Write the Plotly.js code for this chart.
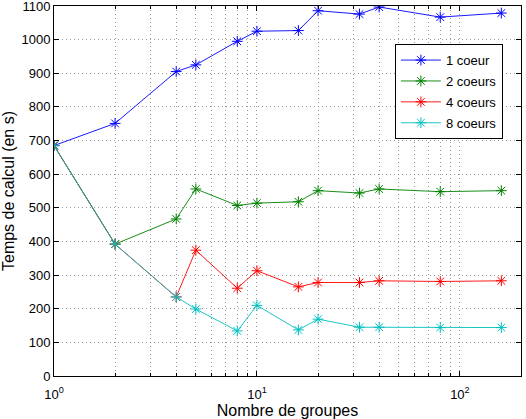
<!DOCTYPE html>
<html><head><meta charset="utf-8">
<script src="https://cdn.plot.ly/plotly-3.0.1.min.js"></script>
<style>html,body{margin:0;padding:0;background:#fff}#chart{width:526px;height:419px}</style>
</head><body><div id="chart"></div>
<script>
const groupes = [1, 2, 4, 5, 8, 10, 16, 20, 32, 40, 80, 160];
const coeur1 = [685, 751, 905, 925, 995, 1025, 1027, 1086, 1076, 1097, 1067, 1079];
const coeurs2 = [685, 392, 467, 556, 507, 514, 518, 551, 544, 556, 548, 551];
const coeurs4 = [685, 392, 235, 374, 261, 313, 265, 278, 278, 283, 281, 283];
const coeurs8 = [685, 392, 235, 199, 134, 210, 137, 169, 145, 145, 144, 144];
const names = ['1 coeur', '2 coeurs', '4 coeurs', '8 coeurs'];
const colors = ['#0000ff', '#008000', '#ff0000', '#00bfbf'];
const series = [coeur1, coeurs2, coeurs4, coeurs8];
const majorTicks = [1, 10, 100];
const majorText = ['10<sup>0</sup>', '10<sup>1</sup>', '10<sup>2</sup>'];
const minorTicks = [2,3,4,5,6,7,8,9,20,30,40,50,60,70,80,90,200];
const yTicks = [0,100,200,300,400,500,600,700,800,900,1000,1100];

const traces = series.map((s, i) => ({
  x: groupes, y: s, name: names[i], type: 'scatter', mode: 'lines+markers',
  legendgroup: names[i],
  line: {color: colors[i], width: 0.9},
  marker: {symbol: 'asterisk-open', size: 9, color: colors[i], line: {color: colors[i], width: 1}}
}));

const font = {family: 'Liberation Sans, Arial, sans-serif', color: '#000'};
const gridStyle = {showgrid: true, gridcolor: '#9a9a9a', griddash: '1px,3px', gridwidth: 1};
const layout = {
  width: 526, height: 419,
  margin: {l: 54, r: 5, t: 6, b: 43},
  paper_bgcolor: '#fff', plot_bgcolor: '#fff',
  font: Object.assign({size: 13}, font),
  showlegend: true,
  legend: {x: 0.73, y: 0.897, xanchor: 'left', yanchor: 'top', bgcolor: '#fff',
    bordercolor: '#000', borderwidth: 1, font: Object.assign({size: 13}, font),
    itemwidth: 40, tracegroupgap: 1},
  xaxis: Object.assign({
    type: 'log', range: [0, Math.log10(200)],
    tickmode: 'array', tickvals: majorTicks, ticktext: majorText,
    ticks: 'inside', ticklen: 5, tickcolor: '#000', ticklabelstandoff: 6,
    ticklabeloverflow: 'allow',
    showline: true, linecolor: '#000', linewidth: 1, mirror: 'ticks',
    zeroline: false,
    minor: Object.assign({tickmode: 'array', tickvals: minorTicks, ticks: 'inside', ticklen: 3, tickcolor: '#000'}, gridStyle),
    title: {text: 'Nombre de groupes', font: Object.assign({size: 16}, font), standoff: 5},
    tickfont: Object.assign({size: 13}, font)
  }, gridStyle),
  yaxis: Object.assign({
    range: [-0.01, 1100.01], tickmode: 'array', tickvals: yTicks,
    ticks: 'inside', ticklen: 5, tickcolor: '#000', ticklabeloverflow: 'allow',
    showline: true, linecolor: '#000', linewidth: 1, mirror: 'ticks',
    zeroline: false,
    title: {text: 'Temps de calcul (en s)', font: Object.assign({size: 16}, font), standoff: 3},
    tickfont: Object.assign({size: 13}, font)
  }, gridStyle)
};
Plotly.newPlot('chart', traces, layout, {displayModeBar: false, staticPlot: true});
</script></body></html>
